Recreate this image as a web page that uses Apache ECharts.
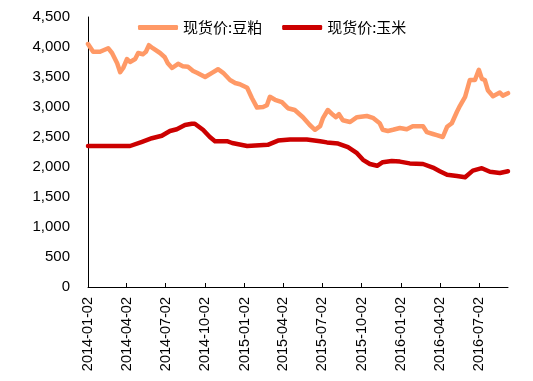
<!DOCTYPE html>
<html>
<head>
<meta charset="utf-8">
<script src="https://cdn.jsdelivr.net/npm/echarts@6/dist/echarts.min.js"></script>
<style>html,body{margin:0;padding:0;background:#fff}#c{width:533px;height:381px}</style>
</head>
<body>
<div id="c"></div>
<script>
var seriesNames = ['现货价:豆粕', '现货价:玉米'];
var tickLabels = ['2014-01-02','2014-04-02','2014-07-02','2014-10-02','2015-01-02','2015-04-02','2015-07-02','2015-10-02','2016-01-02','2016-04-02','2016-07-02'];
var startDate = '2014-01-02';
var endDate = '2016-09-07';

var soymealDates = ['2014-01-02','2014-01-14','2014-01-30','2014-02-18','2014-02-27','2014-03-11','2014-03-18','2014-03-25','2014-04-03','2014-04-10','2014-04-22','2014-04-29','2014-05-10','2014-05-17','2014-05-24','2014-06-02','2014-06-19','2014-06-30','2014-07-07','2014-07-17','2014-07-31','2014-08-11','2014-08-23','2014-09-04','2014-09-13','2014-10-02','2014-10-18','2014-11-01','2014-11-13','2014-11-29','2014-12-11','2014-12-22','2015-01-08','2015-01-19','2015-01-31','2015-02-14','2015-02-23','2015-03-02','2015-03-14','2015-03-30','2015-04-13','2015-04-29','2015-05-18','2015-06-03','2015-06-15','2015-06-27','2015-07-04','2015-07-15','2015-07-27','2015-08-03','2015-08-10','2015-08-19','2015-09-05','2015-09-21','2015-10-14','2015-10-28','2015-11-13','2015-11-20','2015-12-02','2015-12-14','2015-12-30','2016-01-15','2016-01-29','2016-02-22','2016-03-02','2016-03-16','2016-03-25','2016-04-08','2016-04-18','2016-04-29','2016-05-11','2016-05-18','2016-05-30','2016-06-10','2016-06-22','2016-07-01','2016-07-08','2016-07-15','2016-07-22','2016-08-03','2016-08-19','2016-08-26','2016-09-07'];
var soymealValues = [4050,3920,3920,3980,3900,3730,3580,3650,3800,3750,3800,3900,3880,3920,4030,3980,3900,3830,3730,3650,3720,3680,3670,3600,3570,3500,3570,3630,3570,3450,3400,3380,3320,3150,2990,3000,3030,3170,3120,3080,2980,2950,2830,2700,2620,2680,2820,2950,2870,2830,2880,2780,2750,2830,2850,2820,2730,2620,2600,2620,2650,2630,2680,2680,2580,2550,2530,2500,2670,2730,2920,3020,3170,3450,3450,3620,3470,3450,3280,3180,3240,3190,3230];

var cornDates = ['2014-01-02','2014-04-10','2014-05-08','2014-05-31','2014-06-23','2014-07-12','2014-07-28','2014-08-16','2014-09-01','2014-09-08','2014-09-27','2014-10-13','2014-10-25','2014-11-22','2014-12-04','2015-01-08','2015-02-25','2015-03-21','2015-04-18','2015-05-27','2015-06-27','2015-07-13','2015-08-08','2015-08-31','2015-09-21','2015-10-05','2015-10-21','2015-11-07','2015-11-20','2015-12-11','2015-12-30','2016-01-22','2016-02-22','2016-03-16','2016-04-01','2016-04-18','2016-05-11','2016-05-30','2016-06-17','2016-07-08','2016-07-27','2016-08-19','2016-09-07'];
var cornValues = [2350,2350,2420,2480,2520,2600,2630,2700,2720,2720,2620,2500,2430,2430,2400,2350,2370,2440,2460,2460,2430,2410,2390,2330,2230,2120,2050,2020,2080,2100,2090,2060,2050,1990,1930,1870,1850,1830,1940,1980,1920,1900,1930];

function pad(n){return (n<10?'0':'')+n;}
var categories = [];
(function(){
  var s = new Date(startDate + 'T00:00:00Z').getTime();
  var e = new Date(endDate + 'T00:00:00Z').getTime();
  for (var t = s; t <= e; t += 86400000) {
    var d = new Date(t);
    categories.push(d.getUTCFullYear() + '-' + pad(d.getUTCMonth()+1) + '-' + pad(d.getUTCDate()));
  }
})();
function pairs(ds, vs){ return ds.map(function(d,i){ return [d, vs[i]]; }); }
function isTick(idx, val){ return tickLabels.indexOf(val) >= 0; }

var chart = echarts.init(document.getElementById('c'), null, {renderer:'canvas'});
chart.setOption({
  animation: false,
  backgroundColor: '#fff',
  textStyle: {fontFamily: 'Liberation Sans, Arial, Noto Sans CJK SC, sans-serif'},
  legend: {
    left: 133, top: 15,
    itemWidth: 40, itemHeight: 5, itemGap: 20,
    icon: 'roundRect',
    textStyle: {fontSize: 15, color: '#000', fontFamily: 'Noto Sans CJK SC, sans-serif'},
    data: seriesNames
  },
  grid: {left: 88, right: 25, top: 17, bottom: 94},
  xAxis: {
    type: 'category',
    data: categories,
    boundaryGap: false,
    axisLine: {lineStyle: {color: '#000', width: 1}},
    axisTick: {inside: true, length: 4, interval: isTick, lineStyle: {color: '#000'}},
    axisLabel: {interval: isTick, rotate: 90, margin: 10, fontSize: 14.5, color: '#000', fontFamily: 'Liberation Sans, Arial, sans-serif'},
    splitLine: {show: false}
  },
  yAxis: {
    type: 'value',
    min: 0, max: 4500, interval: 500,
    axisLine: {show: true, lineStyle: {color: '#000', width: 1}},
    axisTick: {show: false},
    splitLine: {show: false},
    axisLabel: {
      margin: 18, fontSize: 15, color: '#000', fontFamily: 'Liberation Sans, Arial, sans-serif',
      formatter: function(v){ return v.toString().replace(/\B(?=(\d{3})+(?!\d))/g, ','); }
    }
  },
  series: [
    {name: seriesNames[0], type: 'line', data: pairs(soymealDates, soymealValues), showSymbol: false, symbol: 'none',
     lineStyle: {color: '#FF9966', width: 4.5, cap: 'round', join: 'round'}, itemStyle: {color: '#FF9966'}},
    {name: seriesNames[1], type: 'line', data: pairs(cornDates, cornValues), showSymbol: false, symbol: 'none',
     lineStyle: {color: '#CC0000', width: 4.5, cap: 'round', join: 'round'}, itemStyle: {color: '#CC0000'}}
  ]
});
</script>
</body>
</html>
